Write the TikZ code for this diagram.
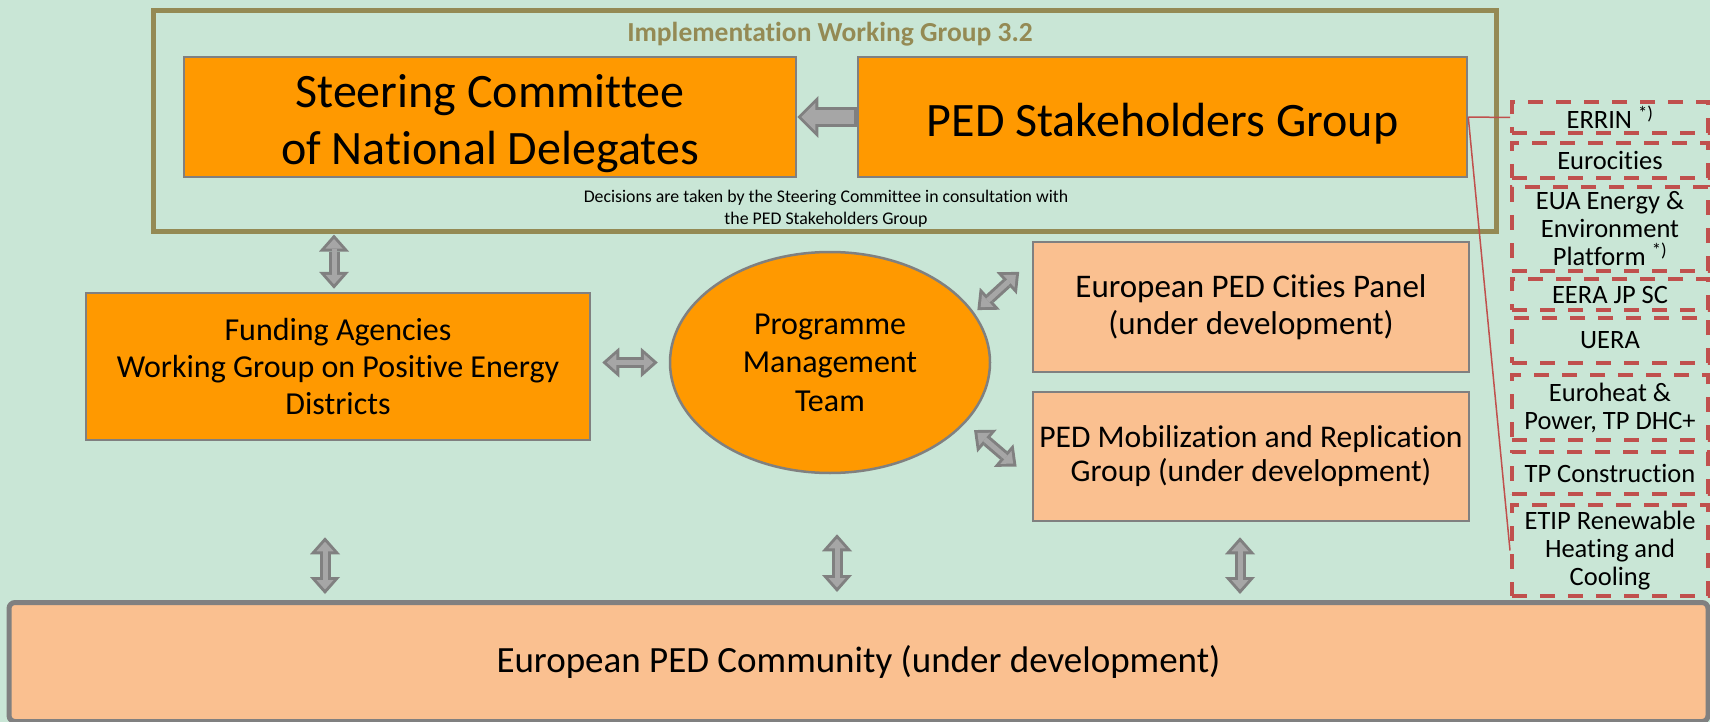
\documentclass[tikz,border=0pt]{standalone}
\usepackage{fontspec}
\setmainfont{Carlito}[Ligatures=NoCommon]
\usetikzlibrary{arrows.meta,shapes.geometric}

\definecolor{bgmint}{RGB}{201,230,214}
\definecolor{pedorange}{RGB}{255,153,0}
\definecolor{pedpeach}{RGB}{250,192,144}
\definecolor{boxgray}{RGB}{128,128,128}
\definecolor{arrowfill}{RGB}{166,166,166}
\definecolor{iwgolive}{RGB}{148,138,84}
\definecolor{linkred}{RGB}{192,80,77}

\tikzset{
    bigtext/.style={font=\fontsize{48}{57}\selectfont},
    midtext/.style={font=\fontsize{32}{37}\selectfont},
    smalltext/.style={font=\fontsize{26.5}{28}\selectfont},
    twoway/.style={draw=boxgray, line width=11pt,
        {Triangle[length=17pt,width=30pt,line width=0pt]}-{Triangle[length=17pt,width=30pt,line width=0pt]},
        postaction={draw=arrowfill, line width=5pt,
            {Triangle[length=9.5pt,width=17pt,sep=4.5pt,line width=0pt]}-{Triangle[length=9.5pt,width=17pt,sep=4.5pt,line width=0pt]}}},
    oneway/.style={draw=boxgray, line width=20pt,
        -{Triangle[length=21pt,width=42pt,line width=0pt]},
        postaction={draw=arrowfill, line width=14pt, shorten <=3pt,
            -{Triangle[length=13.8pt,width=27.6pt,sep=4.2pt,line width=0pt]}}}
}

\begin{document}
\begin{tikzpicture}[x=1pt,y=-1pt]
        \fill[bgmint] (0,0) rectangle (1710,722);
        \useasboundingbox (0,0) rectangle (1710,722);
        % implementation working group frame
        \node[draw=iwgolive, line width=5pt, minimum width=1343pt, minimum height=220pt] (iwg) at (824.5,121) {};
        \node[font=\bfseries\fontsize{27.5}{32}\selectfont, text=iwgolive] (iwgtitle) at (830,34) {Implementation Working Group 3.2};
        \node[font=\fontsize{17.8}{22}\selectfont, align=center] (decide) at (826,209) {Decisions are taken by the Steering Committee in consultation with\\the PED Stakeholders Group};
        \begin{scope}[every node/.style={draw=boxgray, line width=2.5pt, fill=pedorange, align=center}]
            \node[bigtext, minimum width=612pt, minimum height=120pt] (steer) at (490,117) {\rule{0pt}{46pt}Steering Committee\\of National Delegates};
            \node[bigtext, minimum width=609pt, minimum height=120pt] (ped) at (1162.5,117) {\rule{0pt}{46pt}PED Stakeholders Group};
            \node[midtext, minimum width=504pt, minimum height=147pt] (fund) at (338,366.5) {Funding Agencies\\Working Group on Positive Energy\\Districts};
            \node[midtext, ellipse, inner sep=0pt, minimum width=320pt, minimum height=221pt, font=\fontsize{32}{38.5}\selectfont] (pmt) at (830,362.5) {Programme\\Management\\Team};
        \end{scope}
        \begin{scope}[every node/.style={draw=boxgray, line width=2.5pt, fill=pedpeach, align=center, midtext}]
            \node[minimum width=436pt, minimum height=130pt, font=\fontsize{33}{37}\selectfont] (cities) at (1251,307) {European PED Cities Panel\\(under development)};
            \node[minimum width=436pt, minimum height=129pt, font=\fontsize{31.6}{34}\selectfont] (mobil) at (1251,456.5) {PED Mobilization and Replication\\Group (under development)};
            \node[minimum width=1699pt, minimum height=119pt, line width=5pt, rounded corners=6pt, font=\fontsize{37}{44}\selectfont] (comm) at (858.5,662) {European PED Community (under development)};
        \end{scope}
        % partner organisations
        \begin{scope}[every node/.style={draw=linkred, line width=4pt, dash pattern=on 15pt off 13pt, minimum width=196pt, inner sep=1pt, align=center, smalltext}]
            \node[minimum height=31pt] (errin) at (1610,117.5) {ERRIN \textsuperscript{*)}};
            \node[minimum height=35pt] (eurocities) at (1610,160.5) {Eurocities};
            \node[minimum height=84pt] (eua) at (1610,229) {EUA Energy \&\\Environment\\Platform \textsuperscript{*)}};
            \node[minimum height=31pt] (eera) at (1610,294.5) {EERA JP SC};
            \node[minimum height=45pt] (uera) at (1610,340.5) {UERA};
            \node[minimum height=65pt] (euroheat) at (1610,407.5) {Euroheat \&\\Power, TP DHC+};
            \node[minimum height=42pt] (tpcon) at (1610,473) {TP Construction};
            \node[minimum height=91pt] (etip) at (1610,550.5) {ETIP Renewable\\Heating and\\Cooling};
        \end{scope}
        \draw[linkred, line width=1.5pt] (ped.east) -- (errin.west);
        \draw[linkred, line width=1.5pt] (ped.east) -- (etip.west);
        \draw[oneway] (ped.west) -- (steer.east);
        \begin{scope}[every edge/.style={draw, twoway}]
            \path
                ([xshift=-4pt]fund.north |- iwg.south) edge [shorten <=1pt, shorten >=3pt] ([xshift=-4pt]fund.north)
                (fund.east |- pmt.west) edge [shorten <=11pt, shorten >=11pt] (pmt.west)
                (pmt.19) edge [shorten <=4pt, shorten >=17pt] (cities.168)
                (pmt.-24) edge [shorten <=11pt, shorten >=20pt] (mobil.186)
                ([xshift=-13pt]fund.south) edge [shorten <=96pt, shorten >=6pt] ([xshift=-13pt]fund.south |- comm.north)
                ([xshift=7pt]pmt.south) edge [shorten <=60pt, shorten >=8pt] ([xshift=7pt]pmt.south |- comm.north)
                ([xshift=-11pt]mobil.south) edge [shorten <=15pt, shorten >=6pt] ([xshift=-11pt]mobil.south |- comm.north);
        \end{scope}
    \end{tikzpicture}
\end{document}
